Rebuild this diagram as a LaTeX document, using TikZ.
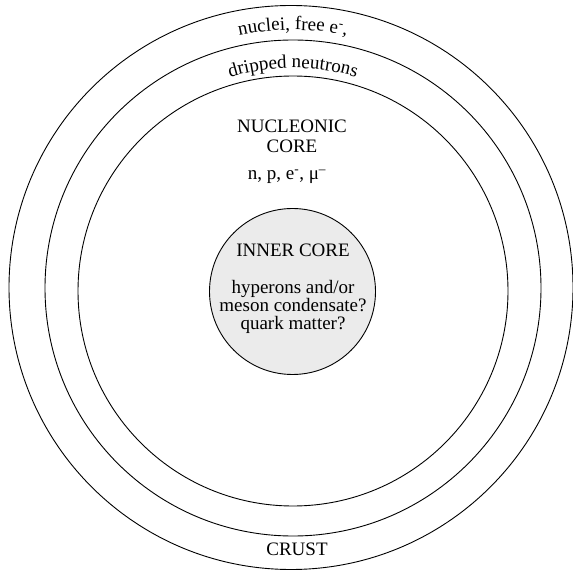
\documentclass[tikz,border=0pt]{standalone}
\usepackage{fontspec}
\setmainfont{Liberation Serif}
\usetikzlibrary{decorations.text}
\definecolor{coregray}{HTML}{EBEBEB}
\newcommand{\bigfs}{\fontsize{19}{19}\selectfont}
\tikzset{
  shell/.style={line width=0.9pt},
  lbl/.style={font=\bigfs, inner sep=0pt, anchor=base},
}
\begin{document}
\begin{tikzpicture}[x=1pt,y=1pt]
\useasboundingbox (0,0) rectangle (573,571);
% shells
\coordinate (c) at (291,283.5);
\draw[shell] (291,283.5) circle[radius=282];
\draw[shell] (293,283) circle[radius=248];
\draw[shell] (293,280) circle[radius=215];
\draw[shell, fill=coregray] (292.5,279.5) circle[radius=83];
% curved labels
\path[decorate, decoration={text along path, text align=center,
  text={|\bigfs|nuclei, free e{\textsuperscript{-}},}}]
  (293,283) ++(105:258) arc[start angle=105, end angle=75, radius=258];
\path[decorate, decoration={text along path, text align=center,
  text={|\bigfs|dripped neutrons}}]
  (293,283) ++(108:220) arc[start angle=108, end angle=72, radius=220];
% nucleonic core
\node[lbl] (nuc) at (292,438) {NUCLEONIC};
\node[lbl] (core) at (292,418) {CORE};
\node[lbl] (parts) at (287,391) {n, p, e\textsuperscript{-}, μ\textsuperscript{–}};
% inner core
\node[lbl] (ic) at (293,314) {INNER CORE};
\node[lbl] (hyp) at (293,277) {hyperons and/or};
\node[lbl] (mes) at (293,259) {meson condensate?};
\node[lbl] (qm) at (293,241) {quark matter?};
% crust
\node[lbl] (crust) at (297,16) {CRUST};
\end{tikzpicture}
\end{document}
